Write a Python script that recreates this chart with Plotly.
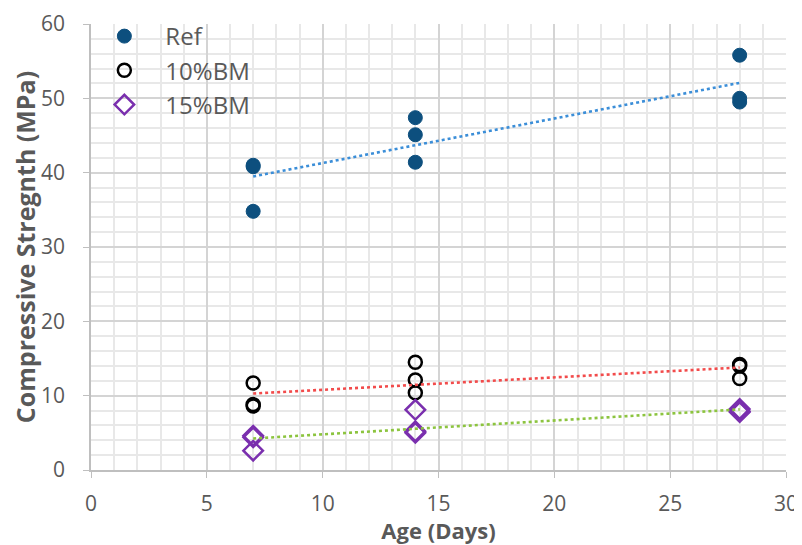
import numpy as np
import plotly.graph_objects as go

ages = [7, 7, 7, 14, 14, 14, 28, 28, 28]
ref = [41.0, 40.8, 34.8, 47.4, 45.1, 41.4, 55.8, 50.0, 49.5]
bm10 = [11.7, 8.8, 8.6, 14.5, 12.1, 10.4, 14.2, 14.0, 12.3]
bm15 = [4.6, 4.4, 2.6, 8.1, 5.2, 5.0, 8.2, 7.9, 7.8]

series = [
    ("Ref", ref, dict(symbol="circle", size=14, color="#0d4f7e", line=dict(width=1, color="#0d4f7e")), "#3b8ed8"),
    ("10%BM", bm10, dict(symbol="circle-open", size=13, color="#000000", line=dict(width=2.5)), "#f24b4b"),
    ("15%BM", bm15, dict(symbol="diamond-open", size=15, color="#7a2fae", line=dict(width=2.5)), "#8cc43f"),
]

fig = go.Figure()
for name, vals, mk, tcol in series:
    fig.add_trace(go.Scatter(x=ages, y=vals, mode="markers", name=name, marker=mk))
for name, vals, mk, tcol in series:
    a, b = np.polyfit(ages, vals, 1)
    xs = [min(ages), max(ages)]
    fig.add_trace(go.Scatter(x=xs, y=[a * x + b for x in xs], mode="lines",
                             line=dict(color=tcol, width=2.6, dash="dot"),
                             showlegend=False, hoverinfo="skip"))

font = "'Open Sans', Lato, sans-serif"
fig.update_layout(
    width=794, height=537,
    margin=dict(l=83, r=16, t=16, b=75, autoexpand=False),
    plot_bgcolor="white", paper_bgcolor="white",
    font=dict(family=font, color="#595959", size=21),
    showlegend=True,
    legend=dict(x=-0.011, y=1.0224, xanchor="left", yanchor="top",
                bgcolor="rgba(0,0,0,0)", font=dict(size=24, color="#595959"),
                itemwidth=72, tracegroupgap=0),
    xaxis=dict(range=[0, 30], dtick=5, tick0=0, automargin=False,
               showgrid=True, gridcolor="#d4d4d4", gridwidth=2,
               minor=dict(dtick=1, showgrid=True, gridcolor="#e8e8e8", gridwidth=1.5),
               showline=True, linecolor="#bfbfbf", linewidth=1.5,
               ticks="outside", ticklen=6, tickcolor="#bfbfbf",
               ticklabelstandoff=8,
               zeroline=False, mirror=False,
               title=dict(text="<b>Age (Days)</b>", font=dict(size=22, color="#595959"), standoff=0),
               tickfont=dict(size=21, color="#595959")),
    yaxis=dict(range=[0, 60], dtick=10, tick0=0, automargin=False,
               showgrid=True, gridcolor="#d4d4d4", gridwidth=2,
               minor=dict(dtick=2, showgrid=True, gridcolor="#e8e8e8", gridwidth=1.5),
               showline=True, linecolor="#bfbfbf", linewidth=1.5,
               ticks="outside", ticklen=6, tickcolor="#bfbfbf",
               ticklabelstandoff=14,
               zeroline=False,
               title=dict(text="<b>Compressive Stregnth (MPa)</b>", font=dict(size=25, color="#595959"), standoff=10),
               tickfont=dict(size=21, color="#595959")),
)
fig.write_html("out.html")
